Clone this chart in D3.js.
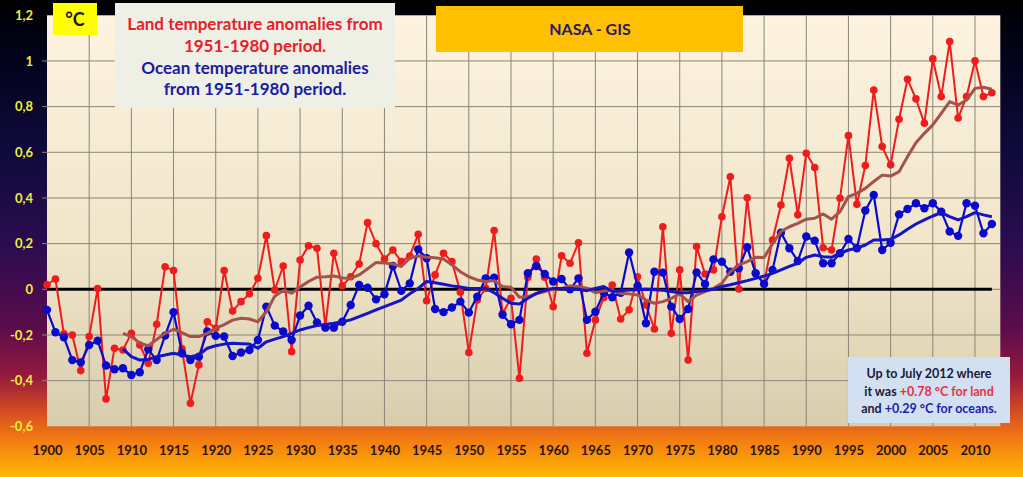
<!DOCTYPE html>
<html><head><meta charset="utf-8">
<script src="https://cdn.jsdelivr.net/npm/d3@7"></script>
<style>
html,body{margin:0;padding:0;background:#000;}
svg{display:block;}
text{font-family:Lato,"Open Sans",sans-serif;font-weight:bold;}
</style></head>
<body>
<script>
const startYear = 1900;
const land = [0.02,0.045,-0.195,-0.2,-0.356,-0.207,0.003,-0.48,-0.258,-0.266,
-0.193,-0.244,-0.324,-0.153,0.099,0.082,-0.261,-0.499,-0.331,-0.142,
-0.171,0.082,-0.095,-0.054,-0.02,0.048,0.235,-0.003,0.102,-0.273,
0.128,0.191,0.18,-0.163,0.158,0.015,0.055,0.111,0.292,0.2,
0.133,0.172,0.121,0.146,0.241,-0.05,0.063,0.158,0.121,-0.013,
-0.277,-0.047,0.004,0.257,-0.105,-0.039,-0.39,0.053,0.133,0.053,
-0.076,0.147,0.114,0.204,-0.28,-0.134,-0.036,0.019,-0.13,-0.09,
0.055,-0.069,-0.174,0.274,-0.193,0.085,-0.31,0.187,0.067,0.085,
0.318,0.493,0.001,0.401,0.07,0.026,0.216,0.369,0.574,0.326,
0.596,0.533,0.182,0.172,0.399,0.673,0.372,0.542,0.873,0.625,
0.545,0.745,0.92,0.834,0.727,1.009,0.844,1.085,0.75,0.844,
1.001,0.844,0.861];
const ocean = [-0.09,-0.188,-0.21,-0.31,-0.32,-0.244,-0.225,-0.334,-0.35,-0.346,
-0.375,-0.363,-0.263,-0.31,-0.203,-0.1,-0.28,-0.31,-0.295,-0.185,
-0.204,-0.207,-0.292,-0.277,-0.266,-0.222,-0.076,-0.159,-0.185,-0.222,
-0.115,-0.072,-0.145,-0.168,-0.168,-0.142,-0.069,0.019,0.007,-0.044,
-0.022,0.102,-0.007,0.026,0.175,0.136,-0.086,-0.1,-0.08,-0.054,
-0.102,-0.032,0.048,0.051,-0.112,-0.153,-0.134,0.07,0.102,0.067,
0.034,0.045,0.0,0.048,-0.134,-0.098,-0.015,-0.035,-0.015,0.161,
0.015,-0.149,0.077,0.073,-0.076,-0.13,-0.086,0.074,0.023,0.131,
0.121,0.077,0.092,0.184,0.07,0.023,0.085,0.248,0.18,0.124,
0.231,0.213,0.114,0.114,0.158,0.22,0.18,0.345,0.413,0.172,
0.204,0.328,0.352,0.377,0.355,0.377,0.34,0.253,0.234,0.377,
0.366,0.245,0.286];
const smoothStart = 1909;
const landSmooth = [-0.193,-0.207,-0.236,-0.247,-0.22,-0.193,-0.175,-0.19,-0.207,-0.207,
-0.193,-0.171,-0.155,-0.135,-0.127,-0.13,-0.142,-0.098,-0.03,-0.005,
-0.017,0.01,0.034,0.053,0.055,0.058,0.05,0.048,0.063,0.09,
0.117,0.115,0.111,0.1,0.136,0.146,0.14,0.138,0.133,0.107,
0.077,0.055,0.041,0.034,0.038,0.012,0.009,-0.035,-0.032,-0.02,
-0.01,0.0,0.004,0.015,0.012,0.005,-0.015,-0.007,-0.003,-0.018,
-0.02,-0.025,-0.047,-0.061,-0.054,-0.04,-0.02,-0.054,-0.025,-0.01,
0.004,0.026,0.077,0.107,0.121,0.14,0.139,0.2,0.253,0.274,
0.289,0.307,0.311,0.33,0.307,0.34,0.406,0.42,0.442,0.472,
0.5,0.496,0.515,0.581,0.642,0.683,0.72,0.771,0.822,0.807,
0.829,0.88,0.885,0.876];
const oceanSmooth = [-0.261,-0.295,-0.31,-0.307,-0.295,-0.288,-0.28,-0.288,-0.295,-0.288,
-0.258,-0.247,-0.24,-0.236,-0.238,-0.24,-0.258,-0.23,-0.218,-0.207,
-0.193,-0.178,-0.168,-0.159,-0.154,-0.149,-0.142,-0.134,-0.12,-0.105,
-0.09,-0.076,-0.062,-0.047,-0.02,0.004,0.034,0.029,0.022,0.015,
0.01,0.004,0.004,0.004,-0.015,-0.039,-0.061,-0.064,-0.039,-0.018,
-0.005,0.004,0.004,0.004,0.0,-0.006,0.004,0.012,-0.01,-0.006,
-0.003,-0.002,0.0,-0.002,-0.004,-0.01,-0.015,-0.015,-0.01,-0.005,
0.0,0.012,0.02,0.029,0.038,0.048,0.058,0.07,0.085,0.1,
0.114,0.14,0.15,0.143,0.14,0.158,0.172,0.18,0.194,0.216,
0.216,0.219,0.238,0.263,0.286,0.304,0.321,0.336,0.318,0.304,
0.318,0.336,0.326,0.318];
const yTicks = [-0.6,-0.4,-0.2,0,0.2,0.4,0.6,0.8,1,1.2];
const xTicks = [1900,1905,1910,1915,1920,1925,1930,1935,1940,1945,1950,1955,1960,1965,1970,1975,1980,1985,1990,1995,2000,2005,2010];
const legendLines = [
  {text:"Land temperature anomalies from", color:"#e8202a"},
  {text:"1951-1980 period.", color:"#e8202a"},
  {text:"Ocean  temperature anomalies", color:"#1c1ca0"},
  {text:"from 1951-1980 period.", color:"#1c1ca0"}
];
const titleText = "NASA - GIS";
const unitText = "°C";
const noteLines = [
  [{t:"Up to July 2012  where", c:"#1a1a3a"}],
  [{t:"it was ", c:"#1a1a3a"},{t:"+0.78 °C for land", c:"#e83040"}],
  [{t:"and ", c:"#1a1a3a"},{t:"+0.29 °C for oceans.", c:"#1c1cb0"}]
];

const W = 1023, H = 477;
const svg = d3.select("body").append("svg").attr("width", W).attr("height", H);
const defs = svg.append("defs");

const bg = defs.append("linearGradient").attr("id","bg").attr("x1",0).attr("y1",0).attr("x2",0).attr("y2",1);
[[0,"#000000"],[0.12,"#03031c"],[0.32,"#100a3c"],[0.52,"#2c0c50"],[0.69,"#5c0c4c"],[0.79,"#961a3c"],[0.86,"#d24a22"],[0.92,"#f27a12"],[1,"#ffb800"]]
  .forEach(s=>bg.append("stop").attr("offset",s[0]).attr("stop-color",s[1]));
const pg = defs.append("linearGradient").attr("id","pg").attr("x1",0).attr("y1",0).attr("x2",0).attr("y2",1);
[[0,"#fdf3e0"],[0.6,"#f0e4c8"],[1,"#d8ccae"]]
  .forEach(s=>pg.append("stop").attr("offset",s[0]).attr("stop-color",s[1]));

svg.append("rect").attr("width",W).attr("height",H).attr("fill","url(#bg)");

const x = d3.scaleLinear().domain([1900, 2013]).range([47, 1000.3]);
const y = d3.scaleLinear().domain([-0.6, 1.2]).range([426.3, 15.3]);

// plot area
svg.append("rect").attr("x", x(1900)).attr("y", y(1.2))
  .attr("width", x(2013)-x(1900)).attr("height", y(-0.6)-y(1.2))
  .attr("fill","url(#pg)");

// gridlines
const grid = svg.append("g");
grid.selectAll("line.h").data(yTicks.filter(v=>v>-0.6 && v<1.2)).join("line")
  .attr("x1", x(1900)-5).attr("x2", x(2013))
  .attr("y1", d=>y(d)).attr("y2", d=>y(d))
  .attr("stroke","#8c8478").attr("stroke-width",1);
grid.selectAll("line.v").data(xTicks.filter(v=>v>1900)).join("line")
  .attr("x1", d=>x(d)).attr("x2", d=>x(d))
  .attr("y1", y(1.2)).attr("y2", y(-0.6))
  .attr("stroke","#8c8478").attr("stroke-width",1);

// y axis
const yAxis = d3.axisLeft(y).tickValues(yTicks).tickSize(0).tickPadding(14)
  .tickFormat(d=>String(d).replace(".",","));
const ga = svg.append("g").attr("transform",`translate(${x(1900)},0)`).call(yAxis);
ga.select(".domain").remove();
ga.selectAll("text").attr("fill","#f0ec3c").attr("font-size",13)
  .style("font-family","Lato, sans-serif").style("font-weight","bold");

// x axis
const xAxis = d3.axisBottom(x).tickValues(xTicks).tickSize(0).tickPadding(0).tickFormat(d3.format("d"));
const gx = svg.append("g").attr("transform","translate(0,443)").call(xAxis);
gx.select(".domain").remove();
gx.selectAll("text").attr("fill","#2a1208").attr("font-size",13).attr("dy","0.9em")
  .style("font-family","Lato, sans-serif").style("font-weight","bold");

// zero line
svg.append("line").attr("x1", x(1900)).attr("x2", x(2012)).attr("y1", y(0)).attr("y2", y(0))
  .attr("stroke","#000").attr("stroke-width",3);

const landData = land.map((v,i)=>({yr:startYear+i, v}));
const oceanData = ocean.map((v,i)=>({yr:startYear+i, v}));
const landS = landSmooth.map((v,i)=>({yr:smoothStart+i, v}));
const oceanS = oceanSmooth.map((v,i)=>({yr:smoothStart+i, v}));
const line = d3.line().x(d=>x(d.yr)).y(d=>y(d.v));

svg.append("path").datum(landData).attr("d", line).attr("fill","none")
  .attr("stroke","#f01c1c").attr("stroke-width",2);
svg.append("g").selectAll("circle").data(landData).join("circle")
  .attr("cx", d=>x(d.yr)).attr("cy", d=>y(d.v)).attr("r",3.8).attr("fill","#f01c1c");

svg.append("path").datum(oceanData).attr("d", line).attr("fill","none")
  .attr("stroke","#0a0acc").attr("stroke-width",2.2);
svg.append("g").selectAll("circle").data(oceanData).join("circle")
  .attr("cx", d=>x(d.yr)).attr("cy", d=>y(d.v)).attr("r",4.2).attr("fill","#0a0acc");

svg.append("path").datum(landS).attr("d", line).attr("fill","none")
  .attr("stroke","#a4524a").attr("stroke-width",3).attr("stroke-linejoin","round");
svg.append("path").datum(oceanS).attr("d", line).attr("fill","none")
  .attr("stroke","#1414c4").attr("stroke-width",3).attr("stroke-linejoin","round");

// unit box
svg.append("rect").attr("x",53).attr("y",3).attr("width",44).attr("height",32).attr("fill","#ffff00");
svg.append("text").attr("x",75).attr("y",26).attr("text-anchor","middle")
  .attr("font-size",18).attr("fill","#1a1a40").text(unitText);

// legend box
svg.append("rect").attr("x",115).attr("y",3).attr("width",280).attr("height",105).attr("fill","#eef0e6");
svg.append("g").selectAll("text").data(legendLines).join("text")
  .attr("x",255).attr("y",(d,i)=>30+i*21.8).attr("text-anchor","middle")
  .attr("font-size",17).attr("fill",d=>d.color).text(d=>d.text);

// title box
svg.append("rect").attr("x",436).attr("y",6).attr("width",307).attr("height",46).attr("fill","#ffc000");
svg.append("text").attr("x",590).attr("y",35).attr("text-anchor","middle")
  .attr("font-size",16).attr("fill","#2a1870").text(titleText);

// note box
svg.append("rect").attr("x",848).attr("y",357).attr("width",162).attr("height",66).attr("fill","#d2e0f2");
const nt = svg.append("g").selectAll("text").data(noteLines).join("text")
  .attr("x",929).attr("y",(d,i)=>378+i*17.5).attr("text-anchor","middle")
  .attr("font-size",12.5);
nt.selectAll("tspan").data(d=>d).join("tspan").attr("fill",d=>d.c).text(d=>d.t);
</script>
</body></html>
